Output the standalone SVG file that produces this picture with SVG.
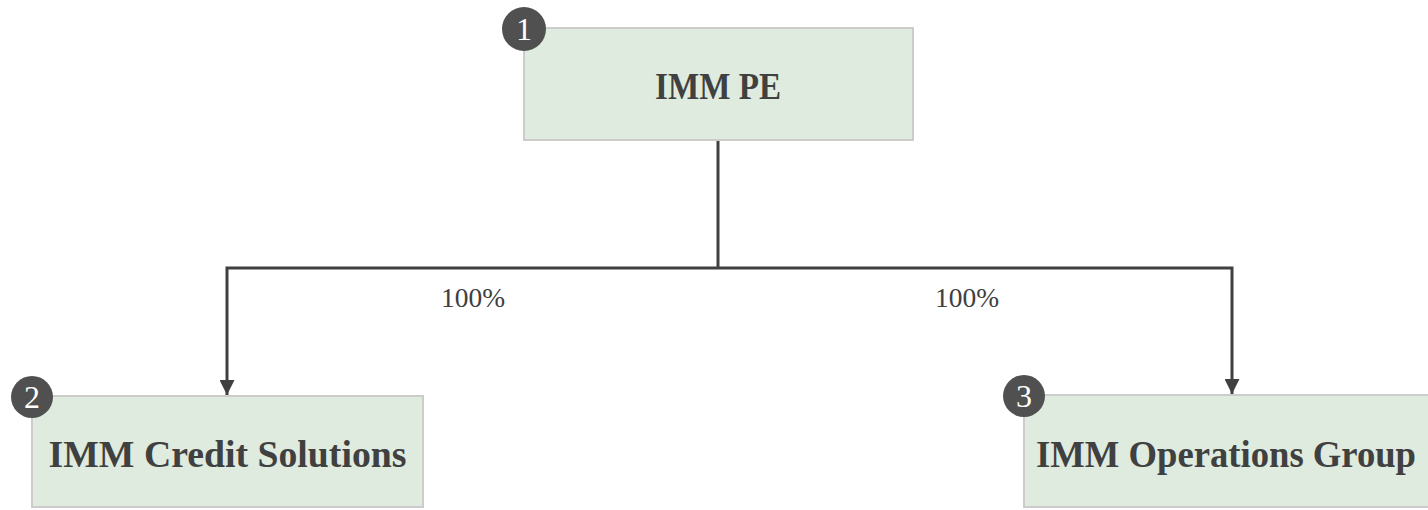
<svg xmlns="http://www.w3.org/2000/svg" width="1428" height="510" viewBox="0 0 1428 510">
<defs>
<style>
.box{fill:#deebde;stroke:#cccccc;stroke-width:2}
.badge{fill:#505050}
.num{font-family:"Liberation Serif",serif;font-size:32px;fill:#ffffff;text-anchor:middle}
.name{font-family:"Liberation Serif",serif;font-size:38px;font-weight:bold;fill:#404040;text-anchor:middle}
.lbl{font-family:"Liberation Serif",serif;font-size:28px;fill:#404040}
.ln{fill:none;stroke:#404040;stroke-width:3}
</style>
<marker id="arr" viewBox="0 0 10 10" refX="10" refY="5" markerWidth="5" markerHeight="5" markerUnits="strokeWidth" orient="auto">
<path d="M0,0 L10,5 L0,10 z" fill="#404040"/>
</marker>
</defs>
<rect width="1428" height="510" fill="#ffffff"/>
<g id="connectors">
<path class="ln" d="M718,140 V268"/>
<path class="ln" d="M718,268 H227 V395" marker-end="url(#arr)"/>
<path class="ln" d="M718,268 H1232 V394" marker-end="url(#arr)"/>
<text class="lbl" x="441" y="307" textLength="64" lengthAdjust="spacingAndGlyphs">100%</text>
<text class="lbl" x="935" y="307" textLength="64" lengthAdjust="spacingAndGlyphs">100%</text>
</g>
<g id="node1">
<rect class="box" x="524" y="28" width="389" height="112"/>
<text class="name" x="718" y="99" textLength="126" lengthAdjust="spacingAndGlyphs">IMM PE</text>
<circle class="badge" cx="524" cy="29" r="22"/>
<text class="num" x="524" y="40">1</text>
</g>
<g id="node2">
<rect class="box" x="32" y="396" width="391" height="111"/>
<text class="name" x="227.5" y="467" textLength="358" lengthAdjust="spacingAndGlyphs">IMM Credit Solutions</text>
<circle class="badge" cx="32" cy="397" r="21"/>
<text class="num" x="32" y="408">2</text>
</g>
<g id="node3">
<rect class="box" x="1024" y="395" width="405" height="112"/>
<text class="name" x="1226" y="467" style="font-size:37px" textLength="380" lengthAdjust="spacingAndGlyphs">IMM Operations Group</text>
<circle class="badge" cx="1024" cy="396" r="21"/>
<text class="num" x="1024" y="407">3</text>
</g>
</svg>
